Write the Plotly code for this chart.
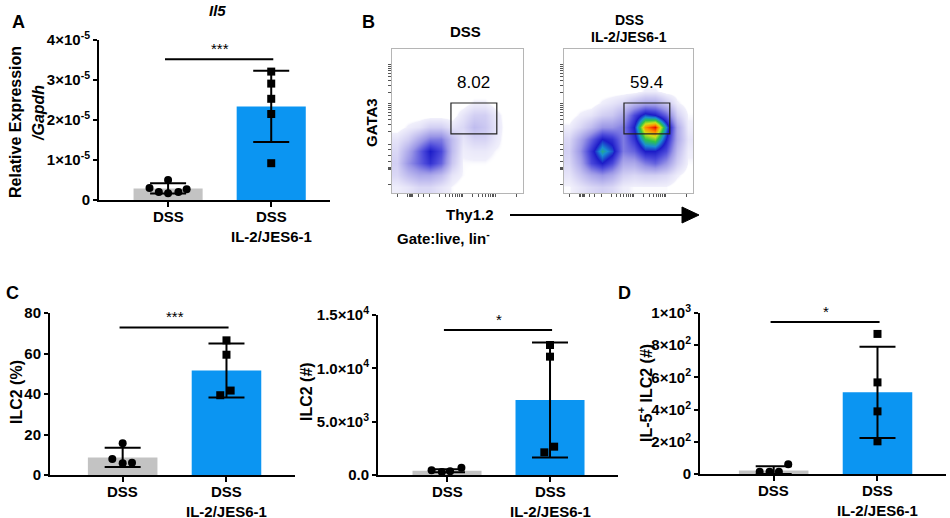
import math
import plotly.graph_objects as go

W, H = 950, 518

# ---------------- data ----------------
groups = ["DSS", "DSS<br>IL-2/JES6-1"]

# Panel A: Il5 relative expression / Gapdh
a_mean = [0.29e-5, 2.34e-5]
a_sd = [0.13e-5, 0.89e-5]
a_dss_pts = [0.30e-5, 0.20e-5, 0.50e-5, 0.17e-5, 0.20e-5, 0.27e-5]
a_dss_jit = [-0.18, -0.09, 0.0, 0.0, 0.10, 0.18]
a_trt_pts = [3.21e-5, 2.91e-5, 2.53e-5, 2.15e-5, 0.92e-5]
a_trt_jit = [0.0, 0.0, 0.0, 0.0, 0.0]
a_sig = ("***", 3.52e-5)

# Panel C left: ILC2 (%)
c1_mean = [8.7, 51.6]
c1_sd = [4.7, 13.3]
c1_dss_pts = [15.7, 7.9, 5.8, 6.1]
c1_dss_jit = [0.0, -0.10, 0.0, 0.09]
c1_trt_pts = [66.5, 59.4, 41.7, 39.4]
c1_trt_jit = [0.0, 0.0, 0.04, -0.06]
c1_sig = ("***", 72.9)

# Panel C right: ILC2 (#)
c2_mean = [400, 7031]
c2_sd = [150, 5390]
c2_dss_pts = [437, 281, 343, 687]
c2_dss_jit = [-0.15, -0.05, 0.03, 0.14]
c2_trt_pts = [12187, 11094, 2656, 2125]
c2_trt_jit = [0.0, 0.0, 0.04, -0.055]
c2_sig = ("*", 13594)

# Panel D: IL-5+ ILC2 (#)
d_mean = [21, 507]
d_sd = [27, 284]
d_dss_pts = [14, 14, 14, 60]
d_dss_jit = [-0.135, -0.04, 0.05, 0.14]
d_trt_pts = [870, 569, 389, 203]
d_trt_jit = [0.0, 0.0, 0.0, 0.0]
d_sig = ("*", 944)

# Panel B: flow cytometry density (coarse grid, rows bottom->top)
flow_dss = [
    [0.3, 0.5, 0.8, 0.8, 0.5, 0.2, 0, 0, 0, 0, 0, 0],
    [0.8, 1.5, 2.0, 2.0, 1.5, 0.5, 0.2, 0, 0, 0, 0, 0],
    [1.0, 2.5, 3.5, 4.5, 3.5, 1.2, 0.2, 0.2, 0.2, 0.1, 0, 0],
    [0.8, 2.0, 3.5, 5.0, 4.0, 1.5, 0.3, 0.4, 0.4, 0.2, 0.1, 0],
    [0.5, 1.0, 2.0, 3.0, 3.0, 1.5, 0.5, 0.9, 0.9, 0.4, 0, 0],
    [0, 0.3, 0.5, 1.0, 1.0, 0.5, 0.8, 1.5, 1.2, 0.5, 0, 0],
    [0, 0, 0, 0, 0, 0, 0.5, 1.0, 1.0, 0.4, 0, 0],
    [0, 0, 0, 0, 0, 0, 0, 0.3, 0.3, 0, 0, 0],
    [0] * 12, [0] * 12, [0] * 12, [0] * 12,
]
flow_trt = [
    [0.2, 0.5, 0.8, 1.0, 0.8, 0.3, 0.2, 0.2, 0.2, 0.2, 0, 0],
    [0.5, 1.2, 2.0, 2.5, 2.0, 1.0, 0.8, 1.0, 1.0, 0.8, 0.3, 0],
    [0.8, 2.0, 4.0, 5.0, 4.0, 2.0, 2.0, 3.0, 3.5, 2.5, 1.0, 0.2],
    [1.0, 2.5, 4.5, 6.5, 5.5, 3.0, 3.5, 5.0, 5.0, 4.0, 1.5, 0.3],
    [0.8, 2.0, 3.5, 5.0, 4.5, 3.0, 4.5, 7.0, 7.5, 5.0, 2.0, 0.5],
    [0.3, 0.8, 1.5, 2.5, 2.5, 3.0, 5.0, 9.0, 10.0, 6.0, 2.0, 0.3],
    [0, 0.3, 0.5, 1.0, 1.2, 2.0, 4.0, 5.5, 5.0, 3.5, 1.0, 0.2],
    [0, 0, 0, 0.3, 0.5, 0.8, 1.5, 2.0, 2.0, 1.2, 0.3, 0],
    [0, 0, 0, 0, 0, 0, 0, 0.3, 0.3, 0, 0, 0],
    [0] * 12, [0] * 12, [0] * 12,
]
flow_gate_pct = ["8.02", "59.4"]
flow_gate_dss = [0.45, 0.80, 0.41, 0.625]   # x0, x1, y0, y1 (relative units)
flow_gate_trt = [0.465, 0.82, 0.41, 0.625]

# ---------------- styling ----------------
FONT = "Liberation Sans, Arial, sans-serif"
GRAY = "#c3c3c3"
BLUE = "#0b95f2"


def px_x(p):
    return p / W


def px_y(p):
    return 1 - p / H


def b(s):
    return f"<b>{s}</b>"


fig = go.Figure()
shapes = []
annos = []


def bar_panel(idx, xdom_px, ydom_px, xr, yr, mean, sd, dss_pts, dss_jit, trt_pts,
              trt_jit, sig, tickvals, ticktext):
    xa = "x" if idx == 1 else f"x{idx}"
    ya = "y" if idx == 1 else f"y{idx}"
    minus = [min(s, m) for s, m in zip(sd, mean)]
    fig.add_trace(go.Bar(
        x=[0, 1], y=mean, width=0.67, xaxis=xa, yaxis=ya,
        marker=dict(color=[GRAY, BLUE], line=dict(width=0)),
        error_y=dict(type="data", array=sd, arrayminus=minus, symmetric=False,
                     color="black", thickness=2, width=18),
        showlegend=False, hoverinfo="skip"))
    fig.add_trace(go.Scatter(
        x=[0 + j for j in dss_jit], y=dss_pts, mode="markers", xaxis=xa, yaxis=ya,
        marker=dict(symbol="circle", size=8, color="black"), showlegend=False,
        cliponaxis=False))
    fig.add_trace(go.Scatter(
        x=[1 + j for j in trt_jit], y=trt_pts, mode="markers", xaxis=xa, yaxis=ya,
        marker=dict(symbol="square", size=8, color="black"), showlegend=False,
        cliponaxis=False))
    key = "" if idx == 1 else str(idx)
    fig.layout["xaxis" + key] = dict(
        domain=[px_x(xdom_px[0]), px_x(xdom_px[1])], range=xr, anchor=ya,
        tickvals=[0, 1], showticklabels=False, ticks="outside", ticklen=5, tickwidth=2,
        tickcolor="black", showline=True, linecolor="black", linewidth=2,
        showgrid=False, zeroline=False, fixedrange=True, automargin=False)
    fig.layout["yaxis" + key] = dict(
        domain=[px_y(ydom_px[0]), px_y(ydom_px[1])], range=yr, anchor=xa,
        tickvals=tickvals, ticktext=[b(t) for t in ticktext], ticks="outside",
        ticklen=4, tickwidth=2,
        tickcolor="black", showline=True, linecolor="black", linewidth=2,
        showgrid=False, zeroline=False, fixedrange=True, automargin=False,
        tickfont=dict(family=FONT, size=15, color="black"))
    for i, g in enumerate(groups):
        annos.append(dict(xref=xa, yref="paper", x=i, y=px_y(ydom_px[0] + 6),
                          text=b(g), showarrow=False, yanchor="top",
                          font=dict(family=FONT, size=15, color="black")))
    shapes.append(dict(type="line", xref=xa, yref=ya, x0=-0.03, x1=1.02,
                       y0=sig[1], y1=sig[1], line=dict(color="black", width=2)))
    annos.append(dict(xref=xa, yref=ya, x=0.5, y=sig[1], text=sig[0],
                      showarrow=False, yanchor="bottom", yshift=0,
                      font=dict(family=FONT, size=15, color="black")))


sup = lambda m, e: f"{m}×10<sup>{e}</sup>"

bar_panel(1, (99, 330), (200, 40), [-0.67, 1.57], [0, 4e-5], a_mean, a_sd,
          a_dss_pts, a_dss_jit, a_trt_pts, a_trt_jit, a_sig,
          [0, 1e-5, 2e-5, 3e-5, 4e-5],
          ["0", sup(1, -5), sup(2, -5), sup(3, -5), sup(4, -5)])
bar_panel(4, (50, 295), (475, 313), [-0.70, 1.66], [0, 80], c1_mean, c1_sd,
          c1_dss_pts, c1_dss_jit, c1_trt_pts, c1_trt_jit, c1_sig,
          [0, 20, 40, 60, 80], ["0", "20", "40", "60", "80"])
bar_panel(5, (378, 618), (475, 315), [-0.67, 1.66], [0, 15000], c2_mean, c2_sd,
          c2_dss_pts, c2_dss_jit, c2_trt_pts, c2_trt_jit, c2_sig,
          [0, 5000, 10000, 15000],
          ["0.0", sup("5.0", 3), sup("1.0", 4), sup("1.5", 4)])
bar_panel(6, (700, 946), (474, 313), [-0.71, 1.66], [0, 1000], d_mean, d_sd,
          d_dss_pts, d_dss_jit, d_trt_pts, d_trt_jit, d_sig,
          [0, 200, 400, 600, 800, 1000],
          ["0", sup(2, 2), sup(4, 2), sup(6, 2), sup(8, 2), sup(1, 3)])

# ---------------- flow panels ----------------
cs = [[0, "rgba(255,255,255,0)"], [0.015, "rgba(255,255,255,0)"],
      [0.025, "#f0effb"], [0.1, "#d2cff3"], [0.25, "#9a96e6"], [0.4, "#4a48da"],
      [0.5, "#1c1cc8"], [0.6, "#1a8ed2"], [0.7, "#2ec24a"], [0.8, "#cfe018"],
      [0.9, "#ff8c00"], [1.0, "#e81000"]]
centers = [(i + 0.5) / 12 for i in range(12)]


def log_ticks(majors):
    vals = list(majors)
    for a, c in zip(majors[:-1], majors[1:]):
        for k in range(2, 10):
            vals.append(a + (c - a) * math.log10(k))
    return vals


ytk = log_ticks([0.34, 0.62, 0.89]) + [0.16, 0.165, 0.17, 0.175, 0.18, 0.22, 0.26, 0.30, 0.06]
xtk = log_ticks([0.29, 0.54, 0.79]) + [0.04, 0.12, 0.13, 0.14, 0.15, 0.16, 0.20, 0.24, 0.95]

for idx, z, xd, gate, pct in [(2, flow_dss, (392, 523), flow_gate_dss, flow_gate_pct[0]),
                              (3, flow_trt, (564, 693), flow_gate_trt, flow_gate_pct[1])]:
    xa, ya = f"x{idx}", f"y{idx}"
    fig.add_trace(go.Heatmap(z=z, x=centers, y=centers, xaxis=xa, yaxis=ya,
                             colorscale=cs, zmin=0, zmax=10, zsmooth="best",
                             showscale=False, hoverinfo="skip"))
    common = dict(range=[0, 1], showgrid=False, zeroline=False, showline=True,
                  mirror=True, linecolor="#b5b5b5", linewidth=1, ticks="outside",
                  ticklen=3, tickwidth=1, tickcolor="#555", showticklabels=False,
                  fixedrange=True, automargin=False)
    fig.layout[f"xaxis{idx}"] = dict(domain=[px_x(xd[0]), px_x(xd[1])], anchor=ya,
                                     tickvals=xtk, **common)
    fig.layout[f"yaxis{idx}"] = dict(domain=[px_y(193), px_y(49)], anchor=xa,
                                     tickvals=ytk, **common)
    shapes.append(dict(type="rect", xref=xa, yref=ya, x0=gate[0], x1=gate[1],
                       y0=gate[2], y1=gate[3], line=dict(color="#222", width=1.2)))
    annos.append(dict(xref=xa, yref=ya, x=(gate[0] + gate[1]) / 2, y=0.77,
                      text=pct, showarrow=False,
                      font=dict(family=FONT, size=17, color="black")))

# arrow for Thy1.2
ay = px_y(215)
shapes.append(dict(type="line", xref="paper", yref="paper", x0=px_x(510), x1=px_x(684),
                   y0=ay, y1=ay, line=dict(color="black", width=2)))
shapes.append(dict(type="path", xref="paper", yref="paper",
                   path=f"M {px_x(682)},{px_y(207)} L {px_x(699)},{ay} L {px_x(682)},{px_y(223)} Z",
                   fillcolor="black", line=dict(color="black", width=1)))


def txt(x, y, text, size=14, bold=True, angle=0, xanchor="center", italic=False):
    t = text
    if italic:
        t = f"<i>{t}</i>"
    if bold:
        t = b(t)
    annos.append(dict(xref="paper", yref="paper", x=px_x(x), y=px_y(y), text=t,
                      showarrow=False, textangle=angle, xanchor=xanchor,
                      yanchor="middle",
                      font=dict(family=FONT, size=size, color="black")))


txt(18, 22, "A", 18)
txt(368, 22, "B", 18)
txt(12, 293, "C", 18)
txt(624, 293, "D", 18)
txt(217, 11, "Il5", 15, italic=True)
txt(16, 122, "Relative Expression", 16, angle=-90)
txt(38, 113, "/Gapdh", 16, angle=-90, italic=True)
txt(16, 392, "ILC2 (%)", 16, angle=-90)
txt(306, 392, "ILC2 (#)", 16, angle=-90)
txt(645, 393, "IL-5<sup>+</sup> ILC2 (#)", 16, angle=-90)
txt(465, 32, "DSS", 15)
txt(629, 20, "DSS", 14)
txt(629, 37, "IL-2/JES6-1", 14)
txt(372, 123, "GATA3", 15, angle=-90)
txt(470, 215, "Thy1.2", 15)
txt(443, 238, "Gate:live, lin<sup>-</sup>", 15)

fig.update_layout(width=W, height=H,
                  margin=dict(l=0, r=0, t=0, b=0, pad=0, autoexpand=False),
                  paper_bgcolor="white", plot_bgcolor="rgba(0,0,0,0)",
                  shapes=shapes, annotations=annos, showlegend=False,
                  font=dict(family=FONT, color="black"))
fig.write_html("out.html", config={"displayModeBar": False},
               post_script="document.body.style.margin='0';"
                           "document.body.style.overflow='hidden';")
